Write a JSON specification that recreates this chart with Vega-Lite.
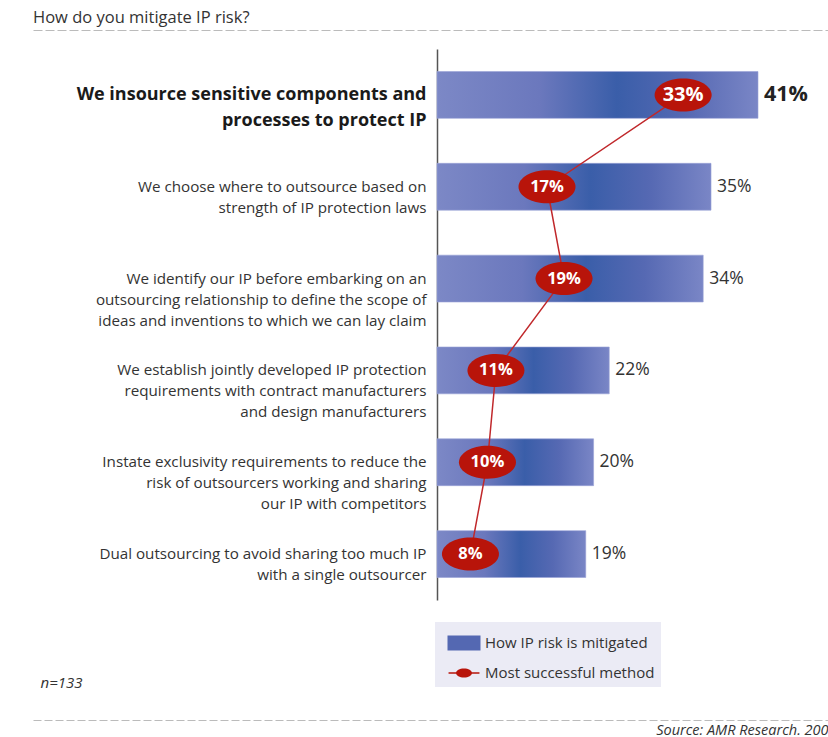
{
  "$schema": "https://vega.github.io/schema/vega-lite/v6.json",
  "width": 795,
  "height": 551,
  "autosize": {"type": "none"},
  "padding": {"left": 33, "top": 49, "right": 0, "bottom": 137},
  "background": "white",
  "title": {
    "text": "How do you mitigate IP risk?",
    "anchor": "start",
    "font": "Open Sans",
    "fontSize": 16.5,
    "fontWeight": "normal",
    "color": "#333333",
    "offset": 4
  },
  "data": {
    "values": [
      {"label": "We insource sensitive components and|processes to protect IP", "share": 0.41, "best": 0.33},
      {"label": "We choose where to outsource based on|strength of IP protection laws", "share": 0.35, "best": 0.17},
      {"label": "We identify our IP before embarking on an|outsourcing relationship to define the scope of|ideas and inventions to which we can lay claim", "share": 0.34, "best": 0.19},
      {"label": "We establish  jointly developed IP protection|requirements with contract manufacturers|and design manufacturers", "share": 0.22, "best": 0.11},
      {"label": "Instate exclusivity requirements to reduce the|risk of outsourcers working and sharing|our IP with competitors", "share": 0.20, "best": 0.10},
      {"label": "Dual outsourcing to avoid sharing too much IP|with a single outsourcer", "share": 0.19, "best": 0.08}
    ]
  },
  "resolve": {"scale": {"x": "independent"}, "axis": {"x": "independent"}},
  "layer": [
    {
      "mark": {
        "type": "bar",
        "fill": {
          "gradient": "linear",
          "x1": 0, "y1": 0, "x2": 1, "y2": 0,
          "stops": [
            {"offset": 0, "color": "#7c88c6"},
            {"offset": 0.32, "color": "#6b78bd"},
            {"offset": 0.56, "color": "#3a5ea9"},
            {"offset": 0.78, "color": "#5669b3"},
            {"offset": 1, "color": "#7a86c6"}
          ]
        },
        "stroke": "#9aa3d6",
        "strokeWidth": 0.6
      },
      "encoding": {
        "x": {
          "field": "share",
          "type": "quantitative",
          "scale": {"domain": [-0.516, 0.4994], "nice": false, "zero": false},
          "axis": {
            "orient": "top",
            "offset": 19,
            "title": null,
            "labels": false,
            "ticks": false,
            "grid": false,
            "domain": true,
            "domainColor": "#bbbbbb",
            "domainDash": [9, 3],
            "domainWidth": 1
          }
        },
        "y": {
          "field": "label",
          "type": "nominal",
          "sort": null,
          "scale": {"paddingInner": 0.49, "paddingOuter": 0.245},
          "axis": {
            "orient": "left",
            "offset": -404,
            "title": null,
            "ticks": false,
            "grid": false,
            "domainColor": "#555555",
            "domainWidth": 1.5,
            "labelExpr": "split(datum.label, '|')",
            "labelAlign": "right",
            "labelBaseline": "middle",
            "labelPadding": 11,
            "labelLimit": 420,
            "labelOverlap": false,
            "labelLineHeight": {"expr": "indexof(datum.value, 'insource') >= 0 ? 26 : 21"},
            "labelFont": "Open Sans",
            "labelFontSize": {"condition": {"test": "indexof(datum.value, 'insource') >= 0", "value": 18}, "value": 15.2},
            "labelFontWeight": {"condition": {"test": "indexof(datum.value, 'insource') >= 0", "value": "bold"}, "value": "normal"},
            "labelColor": {"condition": {"test": "indexof(datum.value, 'insource') >= 0", "value": "#1a1a1a"}, "value": "#333333"}
          }
        }
      }
    },
    {
      "transform": [{"filter": "datum.share < 0.4"}],
      "mark": {"type": "text", "align": "left", "baseline": "middle", "dx": 6, "font": "Open Sans", "fontSize": 17.5, "color": "#333333"},
      "encoding": {
        "x": {
          "field": "share",
          "type": "quantitative",
          "scale": {"domain": [-0.516, 0.4994], "nice": false, "zero": false},
          "axis": {
            "orient": "bottom",
            "offset": 120,
            "labels": false,
            "ticks": false,
            "grid": false,
            "domain": true,
            "domainColor": "#bbbbbb",
            "domainDash": [8, 3],
            "domainWidth": 1,
            "title": "Source: AMR Research. 200",
            "titleAnchor": "end",
            "titleAlign": "right",
            "titleFont": "Open Sans",
            "titleFontSize": 14.5,
            "titleFontStyle": "italic",
            "titleFontWeight": "normal",
            "titleColor": "#333333",
            "titlePadding": 3
          }
        },
        "y": {"field": "label", "type": "nominal", "sort": null},
        "text": {"field": "share", "type": "quantitative", "format": ".0%"}
      }
    },
    {
      "transform": [{"filter": "datum.share >= 0.4"}],
      "mark": {"type": "text", "align": "left", "baseline": "middle", "dx": 6, "font": "Open Sans", "fontSize": 21.5, "fontWeight": "bold", "color": "#222222"},
      "encoding": {
        "x": {
          "field": "share",
          "type": "quantitative",
          "scale": {"domain": [-0.516, 0.4994], "nice": false, "zero": false},
          "axis": {
            "orient": "bottom",
            "offset": 75,
            "labels": false,
            "ticks": false,
            "grid": false,
            "domain": false,
            "title": "n=133",
            "titleAnchor": "start",
            "titleAlign": "left",
            "titleX": 7,
            "titleFont": "Open Sans",
            "titleFontSize": 15,
            "titleFontStyle": "italic",
            "titleFontWeight": "normal",
            "titleColor": "#333333",
            "titlePadding": 0
          }
        },
        "y": {"field": "label", "type": "nominal", "sort": null},
        "text": {"field": "share", "type": "quantitative", "format": ".0%"}
      }
    },
    {
      "mark": {"type": "line", "color": "#c0282b", "strokeWidth": 1.5},
      "encoding": {
        "x": {"field": "best", "type": "quantitative", "scale": {"domain": [-0.4342, 0.5003], "nice": false, "zero": false}, "axis": null},
        "y": {"field": "label", "type": "nominal", "sort": null},
        "order": {"field": "share", "sort": "descending"}
      }
    },
    {
      "mark": {
        "type": "point",
        "filled": true,
        "color": "#b8140a",
        "opacity": 1,
        "shape": "M-1,0A1,0.58 0 1,1 1,0A1,0.58 0 1,1 -1,0Z",
        "size": 3249
      },
      "encoding": {
        "x": {"field": "best", "type": "quantitative", "scale": {"domain": [-0.4342, 0.5003], "nice": false, "zero": false}, "axis": null},
        "y": {"field": "label", "type": "nominal", "sort": null}
      }
    },
    {
      "mark": {"type": "text", "align": "center", "baseline": "middle", "font": "Open Sans", "fontWeight": "bold", "color": "white"},
      "encoding": {
        "x": {"field": "best", "type": "quantitative", "scale": {"domain": [-0.4342, 0.5003], "nice": false, "zero": false}, "axis": null},
        "y": {"field": "label", "type": "nominal", "sort": null},
        "text": {"field": "best", "type": "quantitative", "format": ".0%"},
        "size": {"condition": {"test": "datum.best >= 0.3", "value": 20}, "value": 16.5}
      }
    },
    {
      "mark": {"type": "point", "filled": true, "opacity": 0},
      "encoding": {
        "x": {"field": "share", "type": "quantitative", "scale": {"domain": [-0.516, 0.4994], "nice": false, "zero": false}, "axis": null},
        "y": {"field": "label", "type": "nominal", "sort": null},
        "color": {
          "datum": "How IP risk is mitigated",
          "scale": {"domain": ["How IP risk is mitigated", "Most successful method"], "range": ["#5468b2", "#b8140a"]},
          "legend": {"title": null, "orient": "none", "legendX": 402, "legendY": 573}
        },
        "shape": {
          "datum": "How IP risk is mitigated",
          "scale": {
            "domain": ["How IP risk is mitigated", "Most successful method"],
            "range": [
              "M-1.1,-0.5H1.1V0.5H-1.1Z",
              "M-1.03,-0.05H1.03V0.05H-1.03ZM-0.53,0A0.53,0.3 0 1,1 0.53,0A0.53,0.3 0 1,1 -0.53,0Z"
            ]
          },
          "legend": {"title": null, "orient": "none", "legendX": 402, "legendY": 573}
        }
      }
    },
    {
      "mark": {"type": "point", "filled": true, "opacity": 0},
      "encoding": {
        "x": {"field": "share", "type": "quantitative", "scale": {"domain": [-0.516, 0.4994], "nice": false, "zero": false}, "axis": null},
        "y": {"field": "label", "type": "nominal", "sort": null},
        "color": {"datum": "Most successful method"},
        "shape": {"datum": "Most successful method"}
      }
    }
  ],
  "config": {
    "view": {"stroke": null},
    "font": "Open Sans",
    "legend": {
      "fillColor": "#ebebf5",
      "padding": 6,
      "symbolSize": 900,
      "symbolOffset": 8,
      "symbolOpacity": 1,
      "symbolStrokeWidth": 0,
      "labelOffset": 6,
      "labelFont": "Open Sans",
      "labelFontSize": 15,
      "labelColor": "#333333",
      "labelLimit": 300,
      "rowPadding": 7
    }
  }
}
